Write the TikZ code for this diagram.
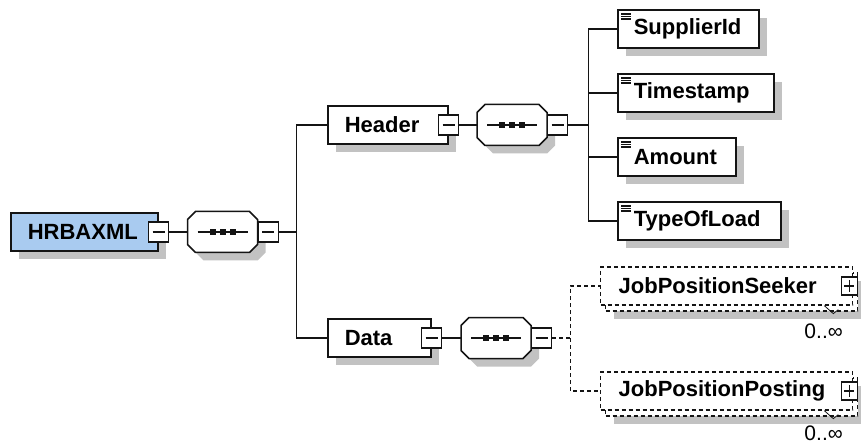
\documentclass[tikz,border=0pt]{standalone}
\usepackage{fontspec}
\setmainfont{Liberation Sans}
\usetikzlibrary{calc,shadows}
\definecolor{Ink}{HTML}{141414}
\definecolor{RootBlue}{HTML}{A9CBF0}
\definecolor{ShadowGray}{HTML}{C2C2C2}

\begin{document}
\begin{tikzpicture}[
  x=1pt, y=-1pt,
  font=\fontsize{22}{26}\selectfont\bfseries,
  boxbase/.style={draw=Ink, line width=1.6pt, fill=white, anchor=west, align=left,
    minimum height=38pt, inner xsep=17pt, inner ysep=0pt},
  castshadow/.style={general shadow={fill=ShadowGray, shadow xshift=8pt, shadow yshift=-8pt}},
  elem/.style={boxbase, castshadow},
  leaf/.style={elem, inner xsep=16pt,
    path picture={\foreach \dy in {4,6.5,9}
      \draw[line width=1.3pt] ([shift={(3.5pt,-\dy pt)}]path picture bounding box.north west) -- ++(10pt,0pt);}},
  optfront/.style={boxbase, dashed, dash pattern=on 4pt off 3pt, line width=1.3pt, inner xsep=18pt},
  optback/.style={optfront, castshadow},
  seq/.style={minimum width=70pt, minimum height=41pt, inner sep=0pt, outer sep=0pt},
  seqline/.style={draw=Ink, line width=1.5pt, fill=white, castshadow},
  foldbox/.style={draw=Ink, line width=1.3pt, fill=white, minimum size=20pt, inner sep=0pt,
    path picture={\draw[line width=1.3pt] ([xshift=4pt]path picture bounding box.west)
      -- ([xshift=-4pt]path picture bounding box.east);}},
  unfoldbox/.style={foldbox, minimum width=16pt, minimum height=18pt,
    path picture={
      \draw[line width=1.3pt] ([xshift=3pt]path picture bounding box.west)
        -- ([xshift=-3pt]path picture bounding box.east);
      \draw[line width=1.3pt] ([yshift=-3pt]path picture bounding box.north)
        -- ([yshift=3pt]path picture bounding box.south);}},
  link/.style={draw=Ink, line width=1.3pt},
  optlink/.style={link, dashed, dash pattern=on 4pt off 3pt},
  occurs/.style={font=\fontsize{21}{24}\selectfont, anchor=east, inner sep=0pt},
  occline/.style={draw=Ink, line width=.8pt}
]
\useasboundingbox (0,0) rectangle (861,443);

% sequence compositors (outline drawn below)
\node[seq] (rootSeq) at (222.5,232) {};
\node[seq] (headerSeq) at (512,125) {};
\node[seq] (dataSeq) at (496,338) {};
\foreach \s in {rootSeq,headerSeq,dataSeq}{
  \path[seqline] ($(\s.north west)+(8,0)$) -- ($(\s.north east)+(-8,0)$)
    -- ($(\s.north east)+(0,8)$) -- ($(\s.south east)+(0,-8)$)
    -- ($(\s.south east)+(-8,0)$) -- ($(\s.south west)+(8,0)$)
    -- ($(\s.south west)+(0,-8)$) -- ($(\s.north west)+(0,8)$) -- cycle;
  \draw[link] ([xshift=10pt]\s.west) -- ([xshift=-10pt]\s.east);
  \foreach \dx in {-10,0,10}
    \fill[Ink] ([xshift=\dx pt]\s.center) +(-3pt,-3pt) rectangle +(3pt,3pt);
}

% root element
\node[elem, fill=RootBlue, text width=113pt] (root) at (10,232) {HRBAXML};
\node[foldbox] (rootFold) at (root.east) {};
\node[foldbox, anchor=west] (rootSeqFold) at (rootSeq.east) {};
\draw[link] (rootFold) -- (rootSeq);

% Header branch
\node[elem, text width=86pt] (header) at (327,125) {Header};
\node[foldbox] (headerFold) at (header.east) {};
\node[foldbox, anchor=west] (headerSeqFold) at (headerSeq.east) {};
\draw[link] (headerFold) -- (headerSeq);

% Data branch
\node[elem, text width=69pt] (data) at (327,338) {Data};
\node[foldbox] (dataFold) at (data.east) {};
\node[foldbox, anchor=west] (dataSeqFold) at (dataSeq.east) {};
\draw[link] (dataFold) -- (dataSeq);

\draw[link] (rootSeqFold.east) -- ++(18,0) coordinate (trunk) |- (header.west);
\draw[link] (trunk) |- (data.west);

% simple-content children of Header
\node[leaf, text width=109pt] (supplier) at (617,29) {SupplierId};
\node[leaf, text width=124pt] (stamp) at (617,93) {Timestamp};
\node[leaf, text width=86pt] (amount) at (617,157) {Amount};
\node[leaf, text width=131pt] (load) at (617,221) {TypeOfLoad};
\draw[link] (headerSeqFold.east) -- ++(20,0) coordinate (headerTrunk) |- (supplier.west);
\draw[link] (headerTrunk) |- (stamp.west);
\draw[link] (headerTrunk) |- (amount.west);
\draw[link] (headerTrunk) |- (load.west);

% optional, repeating children of Data
\node[optback, minimum width=252pt] (seekerBack) at (605,292) {};
\node[optfront, text width=216pt] (seeker) at (600,286) {JobPositionSeeker};
\node[unfoldbox] (seekerFold) at ([xshift=-4pt]seeker.east) {};
\draw[occline] ([xshift=-29pt]seeker.south east) -- ++(9,8) -- ++(5,-4);
\node[occurs] (seekerOcc) at (843,331) {0..∞};

\node[optback, minimum width=252pt] (postingBack) at (605,397) {};
\node[optfront, text width=216pt] (posting) at (600,391) {JobPositionPosting};
\node[unfoldbox] (postingFold) at ([xshift=-4pt]posting.east) {};
\draw[occline] ([xshift=-29pt]posting.south east) -- ++(9,8) -- ++(5,-4);
\node[occurs] (postingOcc) at (843,433) {0..∞};

\draw[optlink] (dataSeqFold.east) -- ++(18,0) coordinate (dataTrunk) |- (seeker.west);
\draw[optlink] (dataTrunk) |- (posting.west);
\end{tikzpicture}
\end{document}
